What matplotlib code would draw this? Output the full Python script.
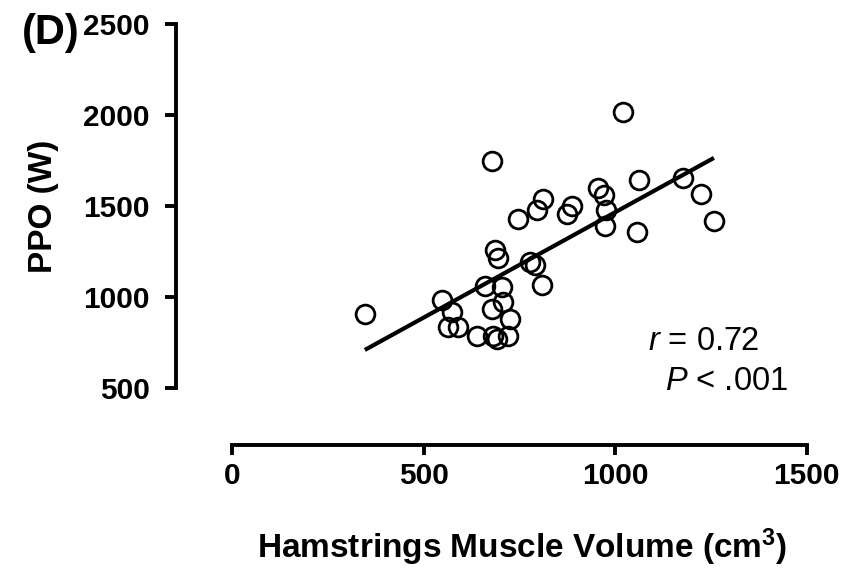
import numpy as np
import matplotlib
matplotlib.use("Agg")
import matplotlib.pyplot as plt

plt.rcParams["font.family"] = ["Liberation Sans", "DejaVu Sans"]
plt.rcParams["mathtext.fontset"] = "custom"
plt.rcParams["mathtext.rm"] = "Liberation Sans:bold"
plt.rcParams["mathtext.bf"] = "Liberation Sans:bold"
plt.rcParams["mathtext.it"] = "Liberation Sans:italic"

# hamstrings volume (cm3) vs peak power output (W)
volume = [346, 547, 573, 564, 590, 638, 682, 690, 721, 660, 703, 708, 677, 725,
          686, 695, 677, 745, 777, 790, 808, 797, 812, 873, 886, 955, 970, 975,
          973, 1020, 1063, 1058, 1176, 1224, 1258]
ppo = [907, 984, 919, 837, 837, 786, 786, 767, 786, 1062, 1057, 970, 935, 880,
       1258, 1213, 1745, 1429, 1194, 1176, 1068, 1478, 1540, 1455, 1500, 1600,
       1558, 1478, 1390, 2018, 1645, 1359, 1652, 1566, 1418]

x_ticks = [0, 500, 1000, 1500]
y_ticks = [500, 1000, 1500, 2000, 2500]

W, H = 849, 570
fig = plt.figure(figsize=(W / 100, H / 100), dpi=100)
ax = fig.add_axes([232.4 / W, 1 - 388 / H, 574.2 / W, 364 / H])

ax.plot(volume, ppo, "o", ms=13.5, mfc="none", mec="black", mew=2.0, clip_on=False)

# least squares line over the data range
slope, icpt = np.polyfit(volume, ppo, 1)
xf = np.array([min(volume), max(volume)])
ax.plot(xf, slope * xf + icpt, color="black", lw=3, solid_capstyle="butt", clip_on=False)

ax.set_xlim(0, 1500)
ax.set_ylim(500, 2500)
ax.set_xticks(x_ticks)
ax.set_yticks(y_ticks)

for s in ["top", "right"]:
    ax.spines[s].set_visible(False)
ax.spines["left"].set_position(("outward", 40.5))
ax.spines["bottom"].set_position(("outward", 41))
for s in ["left", "bottom"]:
    ax.spines[s].set_linewidth(2.8)

ax.tick_params(axis="y", length=8, width=2.8, pad=11, labelsize=21.5)
ax.tick_params(axis="x", length=7.5, width=2.8, pad=5, labelsize=21.5)
for lab in ax.get_xticklabels() + ax.get_yticklabels():
    lab.set_fontweight("bold")

ax.text(1086, 709, r"$\mathit{r}$ = 0.72", fontsize=23.5, clip_on=False)
ax.text(1130, 489, r"$\mathit{P}$ < .001", fontsize=23.5, clip_on=False)

fig.text(522.5 / W, 1 - 558 / H, r"Hamstrings Muscle Volume (cm$^{3}$)",
         ha="center", va="baseline", fontsize=24, fontweight="bold")
fig.text(51.7 / W, 1 - 206.5 / H, "PPO (W)", rotation=90, rotation_mode="anchor",
         ha="center", va="baseline", fontsize=24, fontweight="bold")
fig.text(22 / W, 1 - 44 / H, "(D)", ha="left", va="baseline",
         fontsize=30, fontweight="bold")

fig.savefig("out.png", dpi=100)
